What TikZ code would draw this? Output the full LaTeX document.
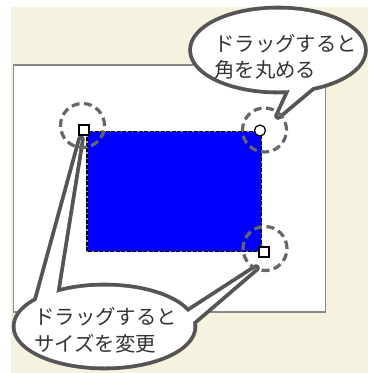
\documentclass[tikz,border=0pt]{standalone}
\usepackage{fontspec}
\newfontfamily\jpfont{Noto Sans CJK JP}
\definecolor{bgbeige}{HTML}{F5F2E0}
\definecolor{bubbleline}{HTML}{555555}
\definecolor{ringgray}{HTML}{666666}
\definecolor{canvasline}{HTML}{888888}
\definecolor{txtgray}{HTML}{333333}
\definecolor{antgap}{HTML}{9A9AB0}
\begin{document}
\begin{tikzpicture}[x=1pt,y=-1pt,
  ring/.style={circle,draw=ringgray,line width=3.2pt,dash pattern=on 8pt off 4.5pt,minimum size=44pt,inner sep=0pt},
  sqhandle/.style={rectangle,draw=black,fill=white,line width=1.2pt,minimum size=10pt,inner sep=0pt},
  cirhandle/.style={circle,draw=black,fill=white,line width=1.2pt,minimum size=11pt,inner sep=0pt},
  bubstroke/.style={draw=bubbleline,line width=7.6pt,line join=round,line cap=round},
  bubfill/.style={fill=white},
  bubtext/.style={anchor=base west,inner sep=0pt,text=txtgray,font=\jpfont\fontsize{20.4}{25}\selectfont}]
\useasboundingbox (0,0) rectangle (368,373);
\fill[white] (0,0) rectangle (368,373);
\fill[bgbeige] (11,7) rectangle (368,373);
% canvas
\draw[canvasline,line width=1.8pt,fill=white] (13.5,65) rectangle (325.5,312);
% blue shape
\fill[blue] (87,131.5) rectangle (261.5,251.5);
\draw[antgap,line width=1.5pt] (87,131.5) rectangle (261.5,251.5);
\draw[black,line width=1.5pt,dash pattern=on 4pt off 1.5pt] (87,131.5) rectangle (261.5,251.5);
% top bubble
\coordinate (topC) at (278,50);
\coordinate (topTip) at (278,116);
\coordinate (topB1) at (291.75,86);
\coordinate (topB2) at (316.75,83.5);
\draw[bubstroke] (topC) ellipse [x radius=86, y radius=40.5];
\draw[bubstroke] (topB1) -- (topTip) -- (topB2);
\fill[bubfill] (topC) ellipse [x radius=86, y radius=40.5];
\fill[bubfill] (topB1) -- (topTip) -- (topB2) -- cycle;
% bottom bubble
\coordinate (botC) at (104.5,326.5);
\coordinate (lTip) at (81,139);
\coordinate (lB1) at (35.4,305.4);
\coordinate (lB2) at (55.3,299.5);
\coordinate (rTip) at (256,268);
\coordinate (rB1) at (181.2,316.4);
\coordinate (rB2) at (185.4,328.5);
\draw[bubstroke] (botC) ellipse [x radius=89, y radius=40];
\draw[bubstroke] (lB1) -- (lTip) -- (lB2);
\draw[bubstroke] (rB1) -- (rTip) -- (rB2);
\fill[bubfill] (botC) ellipse [x radius=89, y radius=40];
\fill[bubfill] (lB1) -- (lTip) -- (lB2) -- cycle;
\fill[bubfill] (rB1) -- (rTip) -- (rB2) -- cycle;
% texts
\node[bubtext] (t1a) at (214,51) {ドラッグすると};
\node[bubtext] (t1b) at (214,77) {角を丸める};
\node[bubtext] (t2a) at (34,324.5) {ドラッグすると};
\node[bubtext] (t2b) at (34,351) {サイズを変更};
% rings
\node[ring] (ringTL) at (82.5,125.5) {};
\node[ring] (ringTR) at (264.5,130) {};
\node[ring] (ringBR) at (265,248.5) {};
% handles
\node[sqhandle] (hTL) at (84,130) {};
\node[cirhandle] (hTR) at (260,130.5) {};
\node[sqhandle] (hBR) at (264,252) {};
\end{tikzpicture}
\end{document}
